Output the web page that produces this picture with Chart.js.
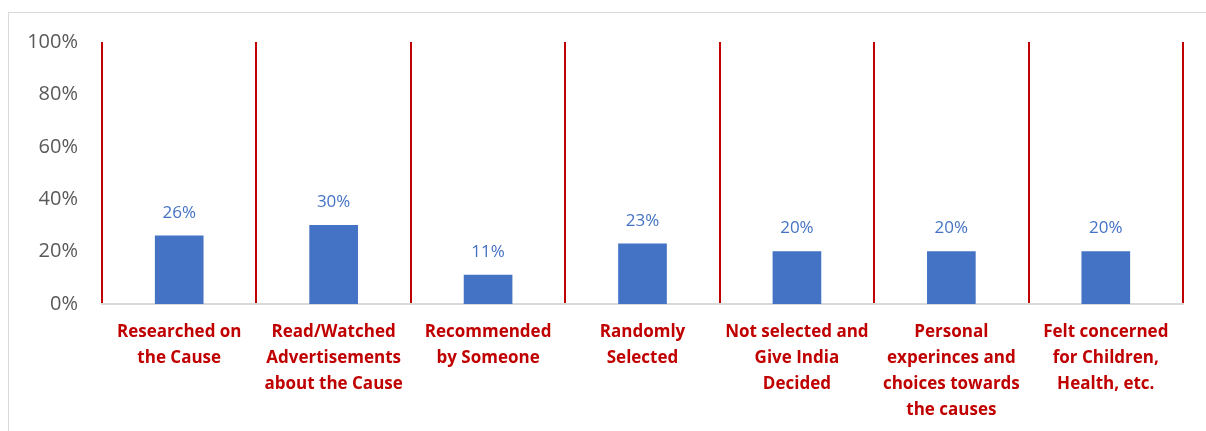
<!DOCTYPE html>
<html>
<head>
<meta charset="utf-8">
<script src="https://cdn.jsdelivr.net/npm/chart.js@4/dist/chart.umd.min.js"></script>
<style>
  html, body { margin: 0; padding: 0; background: #fff; }
  #wrap { position: relative; width: 1206px; height: 431px; overflow: hidden; }
  #frame { position: absolute; left: 8px; top: 12px; width: 1300px; height: 500px; border: 1.5px solid #d9d9d9; }
  canvas { position: absolute; left: 0; top: 0; }
</style>
</head>
<body>
<div id="wrap">
  <div id="frame"></div>
  <canvas id="reasonChart" width="1206" height="431"></canvas>
</div>
<script>
// Categories (multi-line labels) and values in percent
const categories = [
  ["Researched on", "the Cause"],
  ["Read/Watched", "Advertisements", "about the Cause"],
  ["Recommended", "by Someone"],
  ["Randomly", "Selected"],
  ["Not selected and", "Give India", "Decided"],
  ["Personal", "experinces and", "choices towards", "the causes"],
  ["Felt concerned", "for Children,", "Health, etc."]
];
const shares = [26, 30, 11, 23, 20, 20, 20];
const yTicks = [0, 20, 40, 60, 80, 100];

// Draw the value labels above each bar
const valueLabels = {
  id: "valueLabels",
  afterDatasetsDraw(chart) {
    const ctx = chart.ctx;
    const meta = chart.getDatasetMeta(0);
    ctx.save();
    ctx.font = "17px 'Open Sans'";
    ctx.fillStyle = "#4472c4";
    ctx.textAlign = "center";
    ctx.textBaseline = "middle";
    meta.data.forEach(function (bar, i) {
      ctx.fillText(shares[i] + "%", bar.x, bar.y - 23);
    });
    ctx.restore();
  }
};

const ctx = document.getElementById("reasonChart").getContext("2d");

const reasonChart = new Chart(ctx, {
  type: "bar",
  data: {
    labels: categories,
    datasets: [
      {
        data: shares,
        backgroundColor: "#4472c4",
        barThickness: 48
      }
    ]
  },
  options: {
    responsive: false,
    animation: false,
    layout: { padding: { top: 42, right: 23, left: 0, bottom: 0 } },
    plugins: {
      legend: { display: false },
      tooltip: { enabled: false }
    },
    scales: {
      x: {
        grid: {
          display: true,
          offset: true,
          color: "#c00000",
          lineWidth: 2,
          drawTicks: false
        },
        border: { display: true, color: "#d9d9d9", width: 2 },
        ticks: {
          color: "#c00000",
          font: { family: "'Open Sans'", size: 17, weight: "bold", lineHeight: 1.53 },
          padding: 15,
          maxRotation: 0,
          autoSkip: false
        },
        afterFit(scale) {
          scale.height = 127;
        }
      },
      y: {
        min: 0,
        max: 100,
        afterBuildTicks(scale) {
          scale.ticks = yTicks.map(function (v) { return { value: v }; });
        },
        grid: { display: false },
        border: { display: false },
        ticks: {
          color: "#595959",
          font: { family: "'Open Sans'", size: 20 },
          padding: 16,
          callback: function (v) { return v + "%"; }
        },
        afterFit(scale) {
          scale.width = 102;
        }
      }
    }
  },
  plugins: [valueLabels]
});
</script>
</body>
</html>
